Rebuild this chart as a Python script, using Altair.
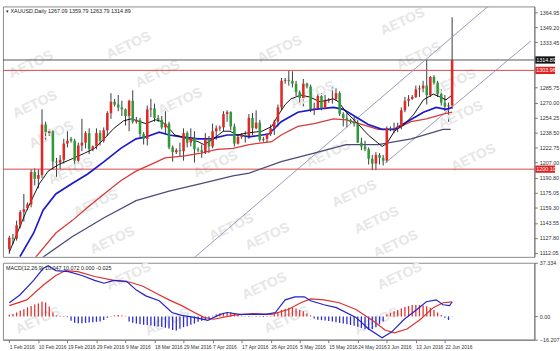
import json
import altair as alt
import pandas as pd

# ---------------- data ----------------
tick_labels = ["1 Feb 2016", "10 Feb 2016", "19 Feb 2016", "29 Feb 2016", "9 Mar 2016",
               "18 Mar 2016", "29 Mar 2016", "7 Apr 2016", "17 Apr 2016", "26 Apr 2016",
               "5 May 2016", "15 May 2016", "24 May 2016", "3 Jun 2016", "13 Jun 2016",
               "22 Jun 2016"]
tick_bars = [0, 8, 16, 24, 32, 40, 48, 56, 64, 72, 80, 88, 96, 104, 112, 120]

opens = [1116, 1128, 1127, 1141, 1155, 1159, 1163, 1197, 1190, 1194, 1247, 1238, 1240, 1208, 1207,
         1210, 1227, 1232, 1230, 1209, 1225, 1228, 1238, 1221, 1224, 1238, 1230, 1241, 1259, 1271,
         1268, 1265, 1263, 1256, 1272, 1250, 1252, 1237, 1232, 1263, 1264, 1254, 1252, 1244, 1248,
         1223, 1218, 1220, 1219, 1238, 1228, 1233, 1221, 1220, 1218, 1232, 1224, 1240, 1243, 1244,
         1258, 1260, 1245, 1227, 1234, 1236, 1235, 1254, 1243, 1249, 1231, 1232, 1237, 1243, 1250,
         1265, 1293, 1294, 1293, 1290, 1281, 1275, 1290, 1287, 1263, 1264, 1277, 1264, 1272, 1273,
         1274, 1280, 1258, 1254, 1252, 1250, 1248, 1228, 1224, 1221, 1211, 1206, 1215, 1212, 1209,
         1243, 1242, 1243, 1245, 1262, 1272, 1274, 1276, 1284, 1285, 1288, 1278, 1297, 1291, 1279,
         1270, 1266, 1267.09]
highs = [1130, 1132, 1146, 1157, 1174, 1165, 1200, 1201, 1200, 1263, 1250, 1242, 1241, 1212, 1215,
         1232, 1240, 1234, 1232, 1228, 1253, 1240, 1243, 1225, 1243, 1241, 1244, 1261, 1280, 1274,
         1278, 1272, 1264, 1273, 1283, 1255, 1254, 1239, 1267, 1274, 1269, 1257, 1256, 1261, 1250,
         1225, 1222, 1228, 1243, 1240, 1243, 1240, 1223, 1226, 1238, 1235, 1248, 1246, 1246, 1261,
         1262, 1261, 1248, 1237, 1238, 1240, 1258, 1259, 1262, 1252, 1234, 1238, 1247, 1252, 1268,
         1296, 1296, 1304, 1303, 1293, 1283, 1295, 1291, 1289, 1270, 1280, 1280, 1278, 1275, 1287,
         1285, 1282, 1260, 1259, 1253, 1255, 1252, 1233, 1230, 1223, 1215, 1218, 1217, 1215, 1245,
         1245, 1249, 1249, 1265, 1276, 1278, 1278, 1288, 1288, 1293, 1315, 1298, 1299, 1293, 1284,
         1278, 1270, 1359.79]
lows = [1111, 1121, 1125, 1138, 1145, 1157, 1160, 1183, 1180, 1191, 1231, 1235, 1200, 1192, 1200,
        1206, 1223, 1228, 1200, 1206, 1219, 1222, 1216, 1219, 1221, 1225, 1228, 1235, 1253, 1266,
        1261, 1256, 1246, 1240, 1248, 1248, 1234, 1226, 1225, 1255, 1250, 1250, 1242, 1237, 1221,
        1208, 1216, 1214, 1209, 1223, 1224, 1207, 1218, 1212, 1216, 1217, 1222, 1231, 1240, 1240,
        1250, 1241, 1224, 1226, 1232, 1228, 1232, 1236, 1242, 1229, 1229, 1228, 1235, 1236, 1245,
        1262, 1290, 1288, 1286, 1277, 1268, 1266, 1285, 1260, 1257, 1263, 1262, 1263, 1270, 1269,
        1272, 1256, 1245, 1244, 1248, 1245, 1228, 1220, 1219, 1205, 1199, 1199, 1205, 1204, 1207,
        1240, 1238, 1239, 1242, 1260, 1266, 1273, 1275, 1276, 1281, 1268, 1276, 1289, 1276, 1267,
        1261, 1250, 1263.79]
closes = [1128, 1127, 1141, 1155, 1158, 1163, 1197, 1190, 1194, 1247, 1239, 1240, 1208, 1207, 1210,
          1227, 1230, 1230, 1209, 1225, 1228, 1238, 1221, 1224, 1238, 1230, 1241, 1259, 1271, 1268,
          1265, 1263, 1256, 1272, 1250, 1252, 1237, 1232, 1263, 1264, 1254, 1252, 1244, 1248, 1223,
          1218, 1220, 1219, 1238, 1228, 1233, 1221, 1220, 1218, 1232, 1224, 1240, 1243, 1244, 1258,
          1260, 1245, 1227, 1234, 1236, 1235, 1254, 1243, 1249, 1231, 1232, 1237, 1243, 1250, 1265,
          1293, 1294, 1293, 1290, 1281, 1275, 1290, 1287, 1263, 1264, 1277, 1264, 1272, 1273, 1274,
          1280, 1258, 1254, 1252, 1250, 1248, 1228, 1224, 1221, 1211, 1206, 1215, 1212, 1209, 1243,
          1242, 1243, 1245, 1262, 1272, 1274, 1276, 1284, 1285, 1288, 1278, 1297, 1291, 1279, 1270,
          1266, 1267, 1314.89]

# moving averages (bar position, price)
fast_i = [0, 4.8, 8.3, 10.7, 13.6, 17.3, 20.8, 23.5, 26.1, 28.8, 31.5, 33.6, 36, 37.6, 40.3, 42.1,
          44, 45.6, 49.3, 52, 53.6, 56.3, 58.9, 60.8, 62.7, 65.3, 69.6, 72.3, 74.1, 76, 77.6, 80.3,
          82.7, 85.6, 89.3, 90.7, 92.8, 95.5, 98.9, 102.7, 104, 106.1, 108.8, 111.5, 114.1, 116.8,
          118.7, 120.3, 122]
fast_v = [1113, 1157, 1185, 1198, 1205, 1211, 1217, 1222, 1232, 1243, 1251, 1253, 1250, 1248, 1252,
          1250, 1243, 1236, 1232, 1229, 1226, 1232, 1240, 1240, 1236, 1238, 1240, 1245, 1257, 1268,
          1274, 1278, 1276, 1271, 1274, 1271, 1260, 1250, 1236, 1224, 1227, 1240, 1247, 1258, 1273,
          1279, 1276, 1273, 1278]
mid_i = [2.9, 6.7, 9.3, 12.8, 17.3, 21.6, 26.1, 30.7, 34.9, 37.6, 41.3, 44, 47.5, 52, 55.5, 60,
         63.5, 66.1, 71.5, 74.9, 79.5, 84, 89.3, 92, 95.5, 98.9, 102.7, 106.1, 109.6, 114.1, 117.6,
         120.3, 122]
mid_v = [1108, 1133, 1157, 1174, 1185, 1195, 1208, 1222, 1232, 1234, 1239, 1236, 1234, 1232, 1232,
         1236, 1236, 1234, 1237, 1250, 1260, 1263, 1265, 1263, 1255, 1247, 1242, 1242, 1250, 1260,
         1265, 1263, 1265]
slow_i = [6.7, 12.8, 17.3, 21.6, 26.1, 30.7, 34.9, 39.5, 42.9, 48.3, 52.8, 57.3, 61.6, 66.1, 72.3,
          74.9, 79.5, 84, 89.3, 92.8, 97.3, 101.6, 106.1, 110.7, 114.9, 119.5, 122]
slow_v = [1105, 1133, 1146, 1160, 1174, 1188, 1198, 1206, 1212, 1214, 1217, 1221, 1222, 1226, 1229,
          1236, 1245, 1248, 1253, 1252, 1247, 1242, 1242, 1250, 1253, 1258, 1260]
long_i = [8.3, 17.3, 26.1, 34.9, 44, 52.8, 61.6, 66.1, 74.9, 84, 92.8, 101.6, 110.7, 119.5, 121.6]
long_v = [1105, 1129, 1149, 1167, 1177, 1185, 1193, 1196, 1208, 1217, 1226, 1226, 1232, 1242, 1242]

# trend channel lines (two anchor points each)
trend1_i = [50.9, 132.8]
trend1_v = [1106.9, 1374.3]
trend2_i = [103.5, 143.7]
trend2_v = [1206.4, 1334.9]

bid_level = 1314.89
red_levels = [1303.96, 1200.10]
price_ticks = [1364.95, 1349.20, 1333.45, 1285.75, 1270.00, 1254.25, 1238.50, 1222.75, 1207.00,
               1190.80, 1175.05, 1159.30, 1143.55, 1127.80, 1112.05]

macd_i = [0, 2.9, 6.7, 9.3, 10.7, 12.8, 16.3, 20, 23.5, 26.1, 28.8, 32.3, 35, 37.6, 41.3, 44.8,
          47.5, 51, 54.7, 58.1, 60, 63.5, 67, 70.7, 73.3, 76, 78.7, 81.3, 83, 86.7, 90.1, 95.5, 99,
          102.7, 105.3, 108.8, 112.3, 114.9, 117.6, 119.5, 121.3, 122]
macd_v = [9.5, 14.9, 25.1, 33.3, 35.3, 31.9, 31.2, 28.5, 25.1, 23.1, 25.1, 24.4, 18.3, 14.3, 10.9,
          2.7, 0.7, -0.7, -2.7, 1.4, 2.7, 1.4, 1.4, 1.4, 2.7, 11.5, 13.6, 13.6, 10.9, 8.1, 6.1, -0.7,
          -8.8, -14.9, -10.9, -2.0, 4.8, 10.2, 11.5, 8.1, 7.5, 10.0]
sig_i = [0, 4.8, 9.3, 12.8, 15.5, 18.9, 23.5, 28.8, 33.3, 36.8, 40.3, 44, 47.5, 51, 53.6, 56.3,
         61.6, 67, 72.3, 76.8, 80.3, 83, 86.7, 90.9, 95.5, 100, 103.5, 106.1, 109.6, 113.3, 116.8,
         119.5, 122]
sig_v = [7.5, 11.5, 21.7, 28.5, 31.9, 31.2, 27.8, 25.1, 23.8, 21.0, 16.3, 11.5, 7.5, 2.7, -0.7,
         -2.0, 0.7, 2.0, 1.4, 4.8, 9.5, 12.2, 11.5, 9.5, 4.8, -2.7, -9.5, -11.5, -8.8, -2.0, 6.1,
         9.5, 10.1]
hist_v = [1.1, 1.6, 2.7, 4.1, 5.0, 6.3, 7.3, 8.2, 9.0, 10.2, 9.7, 6.8, 2.7, 0.7,
          0.4, 0.2,
          -0.5, -3.0, -4.5, -4.8, -4.8, -4.5, -4.2, -4.0, -3.8, -3.5, -2.5, -1.0,
          0.3, 0.7, 1.0, 0.7, 0.3,
          -3.5, -4.5, -5.0, -5.5, -5.8, -6.0, -6.3, -6.8, -7.0, -7.3, -7.9, -8.5, -9.5, -9.8, -8.6,
          -7.5, -6.8, -5.8, -5.0, -3.8, -3.0, -2.5, -1.5,
          0.5, 1.5, 2.0, 2.5, 3.0, 2.8, 2.0, 1.2, 0.5,
          -0.3, -0.5, 0.2, -0.5, 0.3, -0.5, -0.3, 0.3,
          1.5, 3.0, 4.5, 5.2, 6.0, 6.2, 5.5, 4.5, 3.5, 2.0, 0.8,
          -1.5, -2.3, -2.6, -2.9, -3.2, -3.5, -4.0, -4.5, -5.0, -5.5, -6.0, -6.5, -7.2, -8.0, -9.0,
          -9.5, -9.0, -7.5, -5.5, -3.5,
          1.5, 2.5, 3.5, 4.5, 5.5, 6.5, 7.2, 7.9, 8.0, 7.9, 7.5, 7.0, 6.0, 4.5, 2.7, 1.0,
          -1.0, -2.5, -0.3]
macd_ticks = [37.334, 0.0, -16.207]

# watermark anchor points (bar position, value)
wm_price_i = [6.0, 32.9, 40.9, 7.1, 47.1, 11.6, 56.9, 16.9, 23.9, 28.4, 61.2, 74.5, 83.6, 108.4,
              112.9, 122.5, 124.4, 87.9, 127.9, 95.1, 101.2, 71.1, 106.5]
wm_price_v = [1310, 1330, 1300, 1268, 1271, 1236, 1205, 1198, 1164, 1125, 1139, 1326, 1278, 1355,
              1319, 1291, 1257, 1216, 1212, 1174, 1146, 1129, 1121]
wm_macd_i = [32.9, 70.3, 107.6, 7.9, 43.6, 76.4, 101.2]
wm_macd_v = [28.0, 21.0, 28.0, -3.0, -4.0, -2.5, -3.5]
watermark = "AETOS"

price_title = "\u25be XAUUSD,Daily  1267.09 1359.79 1263.79 1314.89"
macd_title = "MACD(12,26,9) 10.047 10.072 0.000 -0.025"

# ---------------- layout ----------------
W, H1, H2 = 539, 254, 78
FONT = "Liberation Sans"
xs = alt.Scale(domain=[-0.4, 143.3], nice=False, zero=False)
ys = alt.Scale(domain=[1107.9, 1371.2], nice=False, zero=False)
ms = alt.Scale(domain=[-16.207, 37.334], nice=False, zero=False)

bars = list(range(len(opens)))
candles = pd.DataFrame({"i": bars, "o": opens, "h": highs, "l": lows, "c": closes})


def series(ix, vals):
    return pd.DataFrame({"i": ix, "v": vals})


price_axis = alt.Axis(orient="right", values=price_ticks, format=".2f", labelFontSize=5.5,
                      labelFont=FONT, labelColor="#333", tickSize=3, tickColor="#777",
                      domainColor="#777", grid=False, labelPadding=2, title=None,
                      labelOverlap=False, labelFlush=False, labelBound=False)
label_expr = f"{json.dumps(tick_labels)}[indexof({json.dumps(tick_bars)}, datum.value)]"
x_axis = alt.Axis(values=tick_bars, labelExpr=label_expr, labelAlign="left", labelFontSize=5,
                  labelFont=FONT, labelColor="#333", tickSize=3, tickColor="#777",
                  domainColor="#777", grid=False, labelPadding=2, labelOverlap=False,
                  labelFlush=False, labelBound=False, title=None)
macd_axis = alt.Axis(orient="right", values=macd_ticks,
                     labelExpr="datum.value == 0 ? '0.00' : format(datum.value, '.3f')",
                     labelFontSize=5.5, labelFont=FONT, labelColor="#333", tickSize=3,
                     tickColor="#777", domainColor="#777", grid=False, labelPadding=2,
                     labelOverlap=False, labelFlush=False, labelBound=False, title=None)

# every layer of a panel carries the identical axis definitions, so they merge cleanly
XU = alt.X("i:Q", scale=xs, axis=None)


def YU(field):
    return alt.Y(field, scale=ys, axis=price_axis)


XL = alt.X("i:Q", scale=xs, axis=x_axis)


def YL(field):
    return alt.Y(field, scale=ms, axis=macd_axis)


wm_up = alt.Chart(series(wm_price_i, wm_price_v)).mark_text(
    text=watermark, angle=335, fontSize=14, fontWeight="bold", font=FONT,
    color="#e6e6e6", clip=True).encode(x=XU, y=YU("v:Q"))

wicks = alt.Chart(candles).mark_rule(color="#3a3a3a", strokeWidth=1).encode(
    x=XU, y=YU("l:Q"), y2="h:Q")
bodies = alt.Chart(candles).mark_bar(size=2.6).encode(
    x=XU, y=YU("o:Q"), y2="c:Q",
    color=alt.condition("datum.c >= datum.o", alt.value("#dd2a26"), alt.value("#2f9a38")))


def line(ix, vals, color, w):
    return alt.Chart(series(ix, vals)).mark_line(color=color, strokeWidth=w, clip=True).encode(
        x=XU, y=YU("v:Q"))


hl_bid = alt.Chart(pd.DataFrame({"v": [bid_level]})).mark_rule(color="#555", strokeWidth=1).encode(
    y=YU("v:Q"))
hl_red = alt.Chart(pd.DataFrame({"v": red_levels})).mark_rule(color="#d44", strokeWidth=1).encode(
    y=YU("v:Q"))

boxes = pd.DataFrame({
    "v": [bid_level] + red_levels,
    "lo": [bid_level - 3.8] + [r - 3.8 for r in red_levels],
    "hi": [bid_level + 3.8] + [r + 3.8 for r in red_levels],
    "t": [f"{bid_level:.2f}"] + [f"{r:.2f}" for r in red_levels],
    "k": ["bid", "red", "red"],
})
box_rect = alt.Chart(boxes).mark_rect().encode(
    x=alt.value(W + 1), x2=alt.value(W + 21),
    y=YU("lo:Q"), y2="hi:Q",
    color=alt.Color("k:N", scale=alt.Scale(domain=["bid", "red"], range=["#111", "#e02020"]),
                    legend=None))
box_text = alt.Chart(boxes).mark_text(align="left", baseline="middle", fontSize=5.5, font=FONT,
                                      color="white").encode(
    x=alt.value(W + 2), y=YU("v:Q"), text="t:N")

ptitle = alt.Chart(pd.DataFrame({"t": [price_title]})).mark_text(
    align="left", baseline="top", fontSize=5.5, font=FONT, color="#222").encode(
    x=alt.value(3), y=alt.value(3), text="t:N")

upper = alt.layer(
    wicks,
    wm_up,
    hl_bid, hl_red,
    line(trend1_i, trend1_v, "#8a8fb0", 0.9),
    line(trend2_i, trend2_v, "#8a8fb0", 0.9),
    line(long_i, long_v, "#4b4b78", 1.3),
    line(slow_i, slow_v, "#d83a3a", 1.3),
    line(mid_i, mid_v, "#1a1ad0", 1.7),
    line(fast_i, fast_v, "#111111", 1.0),
    bodies,
    box_rect, box_text, ptitle,
).properties(width=W, height=H1)

# ---------------- MACD panel ----------------
hist = pd.DataFrame({"i": bars, "h": hist_v})

wm_low = alt.Chart(series(wm_macd_i, wm_macd_v)).mark_text(
    text=watermark, angle=335, fontSize=14, fontWeight="bold", font=FONT,
    color="#e6e6e6", clip=True).encode(x=XL, y=YL("v:Q"))

hbars = alt.Chart(hist).mark_bar(size=1.3).encode(
    x=XL, y=YL("h:Q"),
    color=alt.condition("datum.h > 0", alt.value("#e03030"), alt.value("#2a2ad0")))


def mline(ix, vals, color):
    return alt.Chart(series(ix, vals)).mark_line(color=color, strokeWidth=1.2, clip=True).encode(
        x=XL, y=YL("v:Q"))


mtitle = alt.Chart(pd.DataFrame({"t": [macd_title]})).mark_text(
    align="left", baseline="top", fontSize=5.5, font=FONT, color="#222").encode(
    x=alt.value(3), y=alt.value(3), text="t:N")

lower = alt.layer(
    wm_low,
    hbars,
    mline(sig_i, sig_v, "#e03030"),
    mline(macd_i, macd_v, "#2323c8"),
    mtitle,
).properties(width=W, height=H2)

chart = alt.vconcat(upper, lower, spacing=2).resolve_scale(
    x="independent", y="independent", color="independent"
).properties(
    padding={"left": 2, "top": 3, "right": 0, "bottom": 0},
    background="white",
).configure_view(stroke="#8a8a8a", strokeWidth=1)

chart.save("out.html", embed_options={"renderer": "svg", "actions": False})
